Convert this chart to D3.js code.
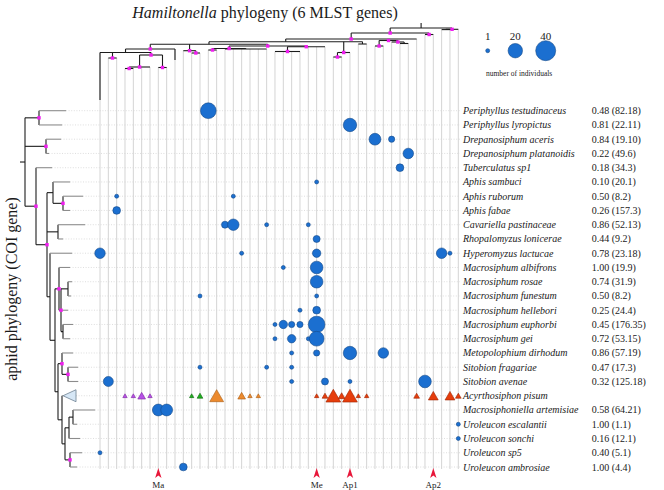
<!DOCTYPE html>
<html><head><meta charset="utf-8">
<script src="https://cdn.jsdelivr.net/npm/d3@7"></script>
<style>body{margin:0;background:#fff}svg{display:block}text{font-family:"Liberation Serif","Times New Roman",serif;fill:#1a1a1a}</style>
</head><body><svg id="c" width="664" height="490"></svg>
<script>
// ---------- DATA ----------
const aphids = ["Periphyllus testudinaceus","Periphyllus lyropictus","Drepanosiphum aceris","Drepanosiphum platanoidis","Tuberculatus sp1","Aphis sambuci","Aphis ruborum","Aphis fabae","Cavariella pastinaceae","Rhopalomyzus lonicerae","Hyperomyzus lactucae","Macrosiphum albifrons","Macrosiphum rosae","Macrosiphum funestum","Macrosiphum hellebori","Macrosiphum euphorbi","Macrosiphum gei","Metopolophium dirhodum","Sitobion fragariae","Sitobion avenae","Acyrthosiphon pisum","Macrosiphoniella artemisiae","Uroleucon escalantii","Uroleucon sonchi","Uroleucon sp5","Uroleucon ambrosiae"];
const aphidValues = ["0.48 (82.18)","0.81 (22.11)","0.84 (19.10)","0.22 (49.6)","0.18 (34.3)","0.10 (20.1)","0.50 (8.2)","0.26 (157.3)","0.86 (52.13)","0.44 (9.2)","0.78 (23.18)","1.00 (19.9)","0.74 (31.9)","0.50 (8.2)","0.25 (24.4)","0.45 (176.35)","0.72 (53.15)","0.86 (57.19)","0.47 (17.3)","0.32 (125.18)","","0.58 (64.21)","1.00 (1.1)","0.16 (12.1)","0.40 (5.1)","1.00 (4.4)"];
const nStrains = 44;

// Hamiltonella tree: [depth, supported, ...children]; leaves = strain column index
const hamTree =
[0,0,
  [5,1,
    [11,1,
      [13.7,0,
        [16.3,0,
          [21,1,
            [24.5,0, 0, [30,1, 1, 2], [27,1, [39,1, [40.5,1, 3, 4], 5, 6], [39.5,1, 7, 8]]],
            9],
          [22.7,1, 10, [25,1, 11, 12]],
          [18,1,
            [20.5,1, [22,1, 13, 14], [21,0, 15, 16, 17, 18, 19, 20]],
            [18.7,1, [23.5,1, 21, 22, 23, 24], 25, 26, 27]
          ]
        ],
        [24.5,1, [29,1, 28, 29], 30],
        [16,0, 31, 32]
      ],
      [12.5,1, [18,1, 33, 34], [14,1, 35, [15.5,0, 36, 37]]],
      38
    ],
    [6.5,1, 39, 40]
  ],
  [1.3,1, [1.6,0, 41, 42], 43]
];
const hamLongTips = [[0, 72], [9, 32]];

// aphid COI tree: [depth, supported, ...children]; leaves = row index
const aphidTree =
[5,0,
  [19,1, 0, 1],
  [26,1, 2, 3],
  [16,1,
    4,
    [27,1,
      [33,0, 5, [43,1, 6, 7]],
      [38,0, 8, 9],
      [30,0,
        10,
        [35,0,
          [39,1, 11, [41,1, [48,0, 12, 13], 14, [43,0, 15, 16]]],
          [38,0,
            [42,1, 17, [48,1, 18, 19]],
            [42,0, 20,
              [45,0, [49,0, [53,0, 21, 22], 23], [50,1, 24, 25]]
            ]
          ]
        ]
      ]
    ]
  ]
];
const aphidTips = [46,42,41,29,32,50,63,50,65,43,52,50,52,51,48,53,50,53,58,58,43,75,57,60,62,57];
const collapsedRow = 20;

// circles: [row, strain column, number of individuals]
const dots = [
 [0,13,24],
 [1,30,17],
 [2,33,13],[2,35,3],
 [3,37,10],
 [4,36,5],
 [5,26,1],
 [6,2,1],[6,16,1],
 [7,2,5],
 [8,15,4],[8,16,12],[8,20,1],[8,25,1],
 [9,26,4],
 [10,0,10],[10,17,1],[10,26,6],[10,41,10],[10,42,1],
 [11,22,1],[11,26,15],
 [12,26,15],
 [13,12,1],[13,26,1],
 [14,24,1],[14,26,5],
 [15,21,1],[15,22,6],[15,23,3],[15,24,3],[15,26,27],
 [16,21,1],[16,23,6],[16,25,1],[16,26,21],
 [17,23,1],[17,26,3],[17,30,17],[17,34,10],
 [18,12,1],[18,20,1],[18,23,1],
 [19,1,9],[19,23,1],[19,27,4],[19,30,1],[19,39,15],
 [21,7,13],[21,8,13],
 [22,43,1],[23,43,1],[24,0,1],[25,10,5]
];
// Acyrthosiphon pisum triangles
const acyCols   = [3,4,5,6, 11,12, 14,17,18,19, 26,27,28,29,30,31,32,38,40,42,43];
const acyCounts = [1,1,4,1, 1,2, 15,4,1,1, 1,2,17,3,17,1,1,2,7,7,2];
const acyGroups = ["p","p","p","p","g","g","o","o","o","o","r","r","r","r","r","r","r","r","r","r","r"];
const arrowCols = [7, 26, 30, 40];
const arrowLabels = ["Ma","Me","Ap1","Ap2"];
const legendSizes = [1, 20, 40];

// ---------- SCALES ----------
const x = d3.scaleLinear().domain([0, nStrains-1]).range([100, 458.3]);
const y = d3.scaleLinear().domain([0, aphids.length-1]).range([110.7, 467]);
const r = d3.scaleSqrt().domain([1, 40]).range([2, 10]);
const hy = d3.scaleLinear().domain([0, 72]).range([28, 100]);
const lx = d3.scaleLinear().domain([0, 80]).range([20, 100]);
const triFill = {p:"#b650e6", g:"#1fae1f", o:"#ec8a2e", r:"#e63d0c"};
const triStroke = {p:"#7d2aa0", g:"#0f6a0f", o:"#a85c14", r:"#9e2300"};
const gridBottom = 469, gridRight = 460;

const svg = d3.select("#c");
const gGrid = svg.append("g");
const gTree = svg.append("g").attr("stroke","#1c1c1c").attr("stroke-width",1.1).attr("fill","none");
const gSq = svg.append("g");
const gMarks = svg.append("g");
const gText = svg.append("g");

// ---------- TOP TREE ----------
function layoutTop(n){
  if (typeof n === "number") return {leaf:true, i:n, x:x(n)};
  const [h, sq, ...kids] = n;
  const ch = kids.map(layoutTop);
  return {h, sq, ch, x:(ch[0].x + ch[ch.length-1].x)/2, y:hy(h)};
}
const squares = [];
function drawTop(n){
  gTree.append("line").attr("x1",n.ch[0].x).attr("x2",n.ch[n.ch.length-1].x).attr("y1",n.y).attr("y2",n.y);
  n.ch.forEach(c=>{
    if (c.leaf){
      gGrid.append("line").attr("x1",c.x).attr("x2",c.x).attr("y1",n.y).attr("y2",gridBottom)
        .attr("stroke","#d4d4d4").attr("stroke-width",1);
      const lt = hamLongTips.find(t=>t[0]===c.i);
      if (lt) gTree.append("line").attr("x1",c.x).attr("x2",c.x).attr("y1",n.y).attr("y2",hy(lt[1]));
    } else {
      gTree.append("line").attr("x1",c.x).attr("x2",c.x).attr("y1",n.y).attr("y2",c.y);
      drawTop(c);
    }
  });
  if (n.sq) squares.push([n.x, n.y]);
}
const topRoot = layoutTop(hamTree);
gTree.append("line").attr("x1",topRoot.x).attr("x2",topRoot.x).attr("y1",hy(0)-5).attr("y2",topRoot.y);
drawTop(topRoot);

// ---------- LEFT TREE ----------
function layoutLeft(n){
  if (typeof n === "number") return {leaf:true, row:n, y:y(n), x:lx(aphidTips[n])};
  const [h, sq, ...kids] = n;
  const ch = kids.map(layoutLeft);
  return {h, sq, ch, x:lx(h), y:(ch[0].y + ch[ch.length-1].y)/2};
}
function drawLeft(n){
  gTree.append("line").attr("x1",n.x).attr("x2",n.x).attr("y1",n.ch[0].y).attr("y2",n.ch[n.ch.length-1].y);
  n.ch.forEach(c=>{
    if (c.leaf){
      gTree.append("line").attr("x1",n.x).attr("x2",c.x).attr("y1",c.y).attr("y2",c.y).attr("stroke","#8c8c8c");
      let gx = c.x;
      if (c.row === collapsedRow){
        gTree.append("path").attr("d",`M${c.x},${c.y} L${c.x+13},${c.y-6} L${c.x+13},${c.y+6} Z`)
          .attr("fill","#d6e7f6").attr("stroke","#7b8c9c").attr("stroke-width",0.9);
        gx = c.x + 13;
      }
      gGrid.append("line").attr("x1",gx).attr("x2",gridRight).attr("y1",c.y).attr("y2",c.y)
        .attr("stroke","#d6d6d6").attr("stroke-width",0.8).attr("stroke-dasharray","1,1.6");
    } else {
      gTree.append("line").attr("x1",n.x).attr("x2",c.x).attr("y1",c.y).attr("y2",c.y);
      drawLeft(c);
    }
  });
  if (n.sq) squares.push([n.x, n.y]);
}
const leftRoot = layoutLeft(aphidTree);
gTree.append("line").attr("x1",lx(0)).attr("x2",leftRoot.x).attr("y1",leftRoot.y).attr("y2",leftRoot.y);
drawLeft(leftRoot);

gSq.selectAll("rect").data(squares).join("rect")
  .attr("x",d=>d[0]-1.7).attr("y",d=>d[1]-1.7).attr("width",3.4).attr("height",3.4).attr("fill","#f01ef0");

// ---------- MARKS ----------
gMarks.selectAll("circle.d").data(dots).join("circle").attr("class","d")
  .attr("cx",d=>x(d[1])).attr("cy",d=>y(d[0])).attr("r",d=>r(d[2]))
  .attr("fill","#1b6fd0").attr("stroke","#164a88").attr("stroke-width",0.6);

const tri = acyCols.map((c,i)=>({c, n:acyCounts[i], g:acyGroups[i]}));
gMarks.selectAll("path.t").data(tri).join("path").attr("class","t")
  .attr("transform",d=>{const s=2.2*r(d.n); return `translate(${x(d.c)},${y(collapsedRow)+s*0.14})`;})
  .attr("d",d=>d3.symbol().type(d3.symbolTriangle).size(0.433*Math.pow(2.2*r(d.n),2))())
  .attr("fill",d=>triFill[d.g]).attr("stroke",d=>triStroke[d.g]).attr("stroke-width",0.6);

// arrows
gMarks.selectAll("path.a").data(arrowCols).join("path").attr("class","a")
  .attr("transform",d=>`translate(${x(d)},468)`)
  .attr("d","M0,0 L3.2,10 L0,7.6 L-3.2,10 Z").attr("fill","#e8173a");
gText.selectAll("text.a").data(arrowCols).join("text").attr("class","a")
  .attr("x",d=>x(d)).attr("y",488).attr("text-anchor","middle").attr("font-size",9)
  .text((d,i)=>arrowLabels[i]);

// ---------- TEXT ----------
gText.selectAll("text.n").data(aphids).join("text").attr("class","n")
  .attr("x",463).attr("y",(d,i)=>y(i)+3.5).attr("font-size",10).attr("font-style","italic").text(d=>d);
gText.selectAll("text.v").data(aphidValues).join("text").attr("class","v")
  .attr("x",591.7).attr("y",(d,i)=>y(i)+3.5).attr("font-size",10).text(d=>d);

const title = gText.append("text").attr("x",265).attr("y",18).attr("text-anchor","middle").attr("font-size",16);
title.append("tspan").attr("font-style","italic").text("Hamiltonella");
title.append("tspan").text(" phylogeny (6 MLST genes)");

gText.append("text").attr("transform","translate(17,289) rotate(-90)").attr("text-anchor","middle")
  .attr("font-size",16).text("aphid phylogeny (COI gene)");

// legend
const legPos = {1:487.7, 20:515.3, 40:545.7};
gMarks.selectAll("circle.l").data(legendSizes).join("circle").attr("class","l")
  .attr("cx",d=>legPos[d]).attr("cy",50.7).attr("r",d=>r(d))
  .attr("fill","#1b6fd0").attr("stroke","#164a88").attr("stroke-width",0.6);
gText.selectAll("text.l").data(legendSizes).join("text").attr("class","l")
  .attr("x",d=>legPos[d]).attr("y",40).attr("text-anchor","middle").attr("font-size",11).text(d=>d);
gText.append("text").attr("x",486).attr("y",75.5).attr("font-size",7.5).text("number of individuals");
</script></body></html>
